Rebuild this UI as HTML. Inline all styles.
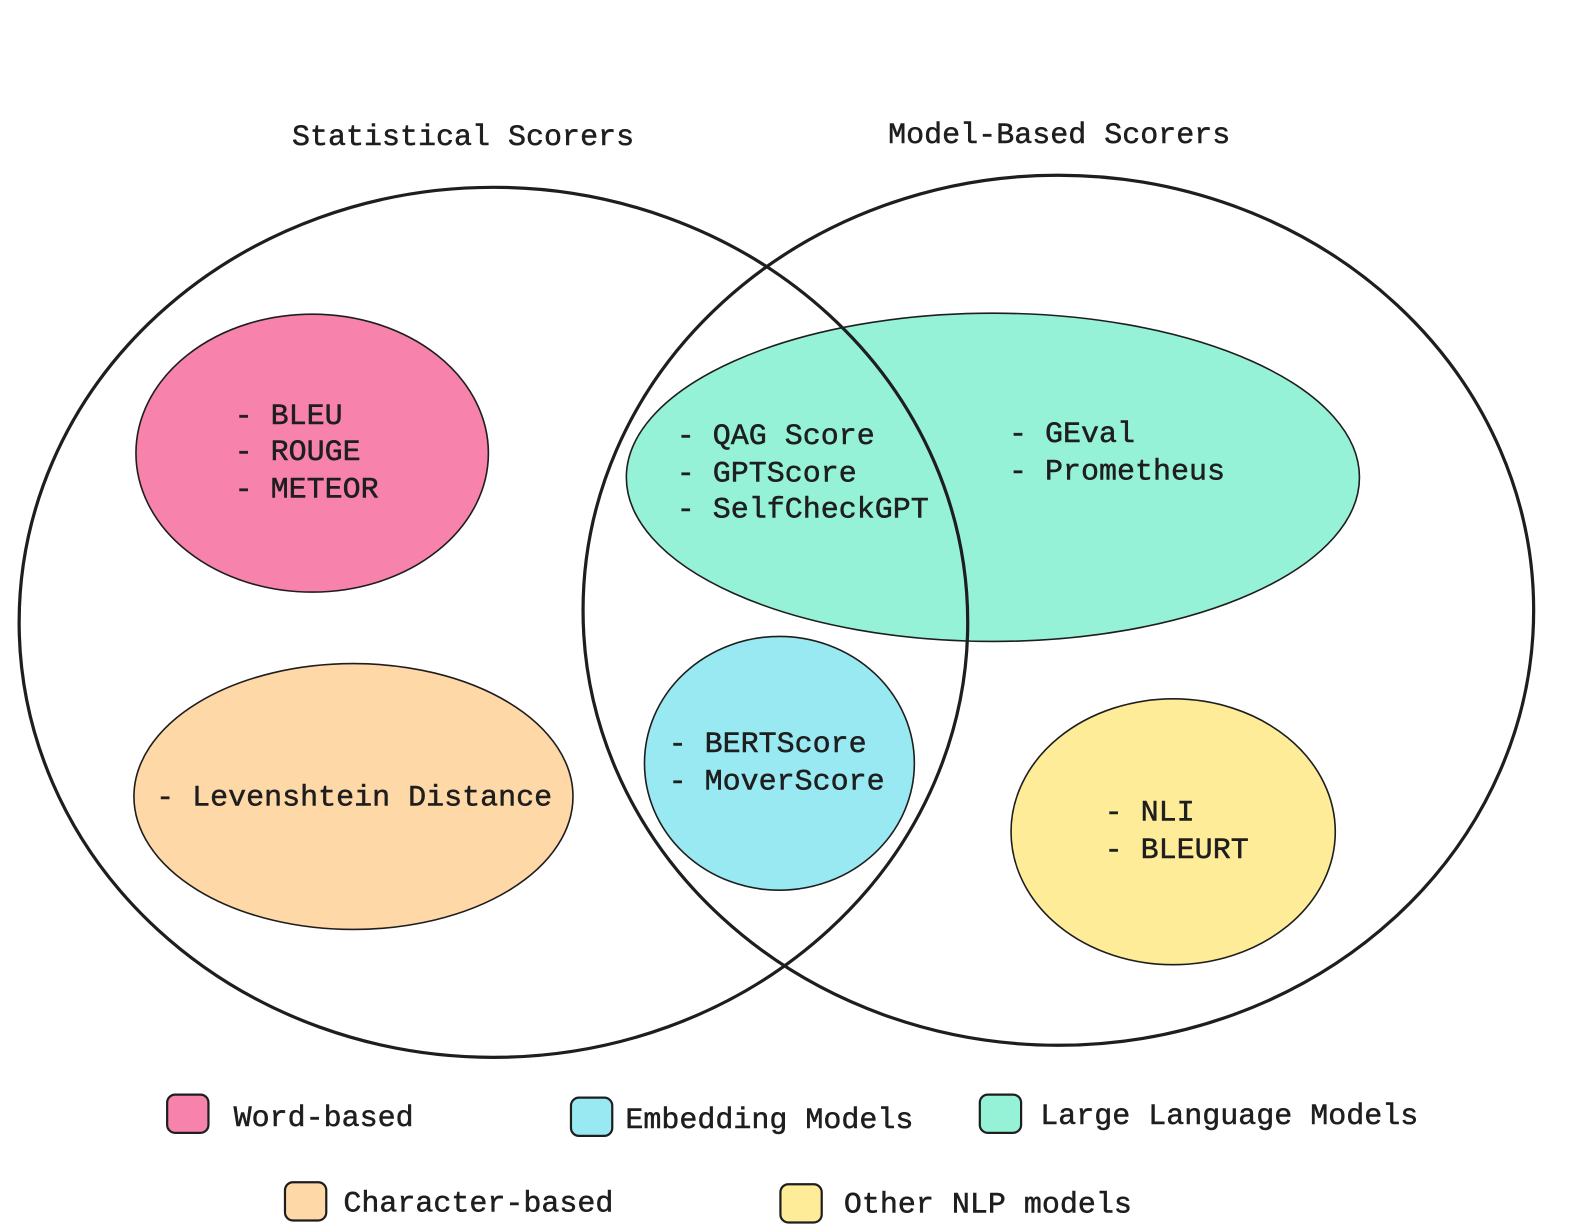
<!DOCTYPE html>
<html><head><meta charset="utf-8"><style>
html,body{margin:0;padding:0;background:#fff;}
svg{display:block;}
text{font-family:"Liberation Mono",monospace;font-size:29.8px;fill:#1e1e1e;stroke:#1e1e1e;stroke-width:0.5px;}
</style></head><body>
<svg width="1580" height="1232" viewBox="0 0 1580 1232" xmlns="http://www.w3.org/2000/svg">
<rect width="1580" height="1232" fill="#fff"/>
<g transform="scale(1.007)">
<g stroke="#1e1e1e" stroke-width="1.6">
<ellipse cx="310" cy="450" rx="175" ry="138" fill="#f783ac"/>
<ellipse cx="351" cy="791" rx="218" ry="132" fill="#ffd8a8"/>
<ellipse cx="986" cy="474" rx="364" ry="163" fill="#96f2d7"/>
<ellipse cx="774" cy="758" rx="134" ry="126" fill="#99e9f2"/>
<ellipse cx="1165" cy="826" rx="161" ry="132" fill="#ffec99"/>
</g>
<g stroke="#1e1e1e" stroke-width="3.2" fill="none">
<ellipse cx="490" cy="618" rx="471" ry="432"/>
<ellipse cx="1051" cy="606" rx="472" ry="432"/>
</g>
<text x="290" y="144">Statistical Scorers</text>
<text x="882" y="142">Model-Based Scorers</text>
<text x="233" y="421">- BLEU</text>
<text x="233" y="457">- ROUGE</text>
<text x="233" y="494">- METEOR</text>
<text x="155" y="800">- Levenshtein Distance</text>
<text x="672" y="441">- QAG Score</text>
<text x="672" y="478">- GPTScore</text>
<text x="672" y="514">- SelfCheckGPT</text>
<text x="1002" y="439">- GEval</text>
<text x="1002" y="476">- Prometheus</text>
<text x="664" y="747">- BERTScore</text>
<text x="664" y="784">- MoverScore</text>
<text x="1097" y="815">- NLI</text>
<text x="1097" y="852">- BLEURT</text>
<g stroke="#1e1e1e" stroke-width="2.2">
<rect x="166" y="1087" width="41" height="38" rx="8" fill="#f783ac"/>
<rect x="567" y="1090" width="41" height="38" rx="8" fill="#99e9f2"/>
<rect x="973" y="1087" width="41" height="38" rx="8" fill="#96f2d7"/>
<rect x="283" y="1174" width="41" height="38" rx="8" fill="#ffd8a8"/>
<rect x="775" y="1176" width="41" height="38" rx="8" fill="#ffec99"/>
</g>
<text x="232" y="1118">Word-based</text>
<text x="621" y="1120">Embedding Models</text>
<text x="1033" y="1116">Large Language Models</text>
<text x="341" y="1203">Character-based</text>
<text x="838" y="1204">Other NLP models</text>
</g>
</svg>
</body></html>
